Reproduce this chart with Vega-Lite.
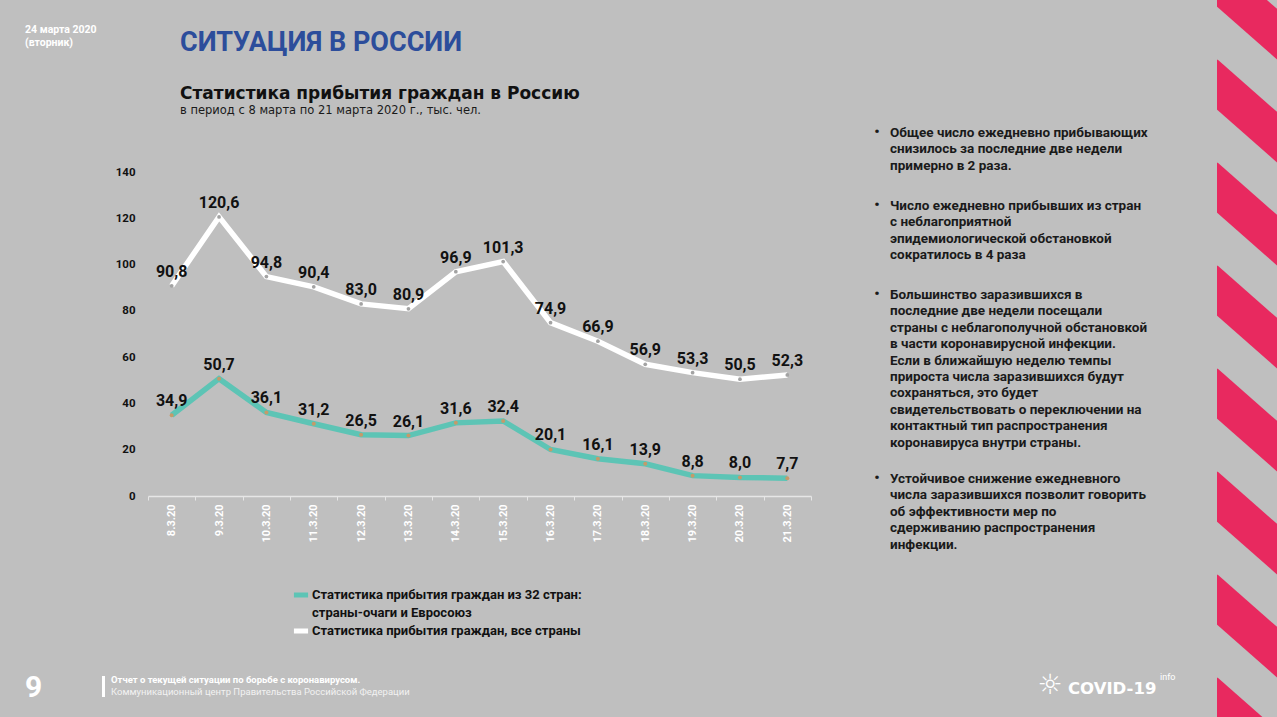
{
  "$schema": "https://vega.github.io/schema/vega-lite/v6.json",
  "width": 663,
  "height": 324,
  "autosize": "none",
  "padding": {"left": 148, "top": 172, "right": 466, "bottom": 221},
  "background": "#bfbfbf",
  "config": {
    "view": {"stroke": null},
    "font": "Roboto",
    "style": {"guide-label": {"lineHeight": 18}},
    "locale": {"number": {"decimal": ",", "thousands": " ", "grouping": [3], "currency": ["", ""]}}
  },
  "datasets": {
    "arrivals": [
      {"date": "8.3.20", "series": "Статистика прибытия граждан, все страны", "value": 90.8},
      {"date": "9.3.20", "series": "Статистика прибытия граждан, все страны", "value": 120.6},
      {"date": "10.3.20", "series": "Статистика прибытия граждан, все страны", "value": 94.8},
      {"date": "11.3.20", "series": "Статистика прибытия граждан, все страны", "value": 90.4},
      {"date": "12.3.20", "series": "Статистика прибытия граждан, все страны", "value": 83.0},
      {"date": "13.3.20", "series": "Статистика прибытия граждан, все страны", "value": 80.9},
      {"date": "14.3.20", "series": "Статистика прибытия граждан, все страны", "value": 96.9},
      {"date": "15.3.20", "series": "Статистика прибытия граждан, все страны", "value": 101.3},
      {"date": "16.3.20", "series": "Статистика прибытия граждан, все страны", "value": 74.9},
      {"date": "17.3.20", "series": "Статистика прибытия граждан, все страны", "value": 66.9},
      {"date": "18.3.20", "series": "Статистика прибытия граждан, все страны", "value": 56.9},
      {"date": "19.3.20", "series": "Статистика прибытия граждан, все страны", "value": 53.3},
      {"date": "20.3.20", "series": "Статистика прибытия граждан, все страны", "value": 50.5},
      {"date": "21.3.20", "series": "Статистика прибытия граждан, все страны", "value": 52.3},
      {"date": "8.3.20", "series": "Статистика прибытия граждан из 32 стран: страны-очаги и Евросоюз", "value": 34.9},
      {"date": "9.3.20", "series": "Статистика прибытия граждан из 32 стран: страны-очаги и Евросоюз", "value": 50.7},
      {"date": "10.3.20", "series": "Статистика прибытия граждан из 32 стран: страны-очаги и Евросоюз", "value": 36.1},
      {"date": "11.3.20", "series": "Статистика прибытия граждан из 32 стран: страны-очаги и Евросоюз", "value": 31.2},
      {"date": "12.3.20", "series": "Статистика прибытия граждан из 32 стран: страны-очаги и Евросоюз", "value": 26.5},
      {"date": "13.3.20", "series": "Статистика прибытия граждан из 32 стран: страны-очаги и Евросоюз", "value": 26.1},
      {"date": "14.3.20", "series": "Статистика прибытия граждан из 32 стран: страны-очаги и Евросоюз", "value": 31.6},
      {"date": "15.3.20", "series": "Статистика прибытия граждан из 32 стран: страны-очаги и Евросоюз", "value": 32.4},
      {"date": "16.3.20", "series": "Статистика прибытия граждан из 32 стран: страны-очаги и Евросоюз", "value": 20.1},
      {"date": "17.3.20", "series": "Статистика прибытия граждан из 32 стран: страны-очаги и Евросоюз", "value": 16.1},
      {"date": "18.3.20", "series": "Статистика прибытия граждан из 32 стран: страны-очаги и Евросоюз", "value": 13.9},
      {"date": "19.3.20", "series": "Статистика прибытия граждан из 32 стран: страны-очаги и Евросоюз", "value": 8.8},
      {"date": "20.3.20", "series": "Статистика прибытия граждан из 32 стран: страны-очаги и Евросоюз", "value": 8.0},
      {"date": "21.3.20", "series": "Статистика прибытия граждан из 32 стран: страны-очаги и Евросоюз", "value": 7.7}
    ]
  },
  "data": {"name": "arrivals"},
  "layer": [
    {"data": {"values": [{}]}, "mark": {"type": "rule", "strokeWidth": 38, "color": "#e8295f", "strokeCap": "butt"}, "encoding": {"x": {"value": 1057}, "x2": {"value": 1142}, "y": {"value": -201.2}, "y2": {"value": -126.4}}},
    {"data": {"values": [{}]}, "mark": {"type": "rule", "strokeWidth": 38, "color": "#e8295f", "strokeCap": "butt"}, "encoding": {"x": {"value": 1057}, "x2": {"value": 1142}, "y": {"value": -98.2}, "y2": {"value": -23.4}}},
    {"data": {"values": [{}]}, "mark": {"type": "rule", "strokeWidth": 38, "color": "#e8295f", "strokeCap": "butt"}, "encoding": {"x": {"value": 1057}, "x2": {"value": 1142}, "y": {"value": 4.8}, "y2": {"value": 79.6}}},
    {"data": {"values": [{}]}, "mark": {"type": "rule", "strokeWidth": 38, "color": "#e8295f", "strokeCap": "butt"}, "encoding": {"x": {"value": 1057}, "x2": {"value": 1142}, "y": {"value": 107.8}, "y2": {"value": 182.6}}},
    {"data": {"values": [{}]}, "mark": {"type": "rule", "strokeWidth": 38, "color": "#e8295f", "strokeCap": "butt"}, "encoding": {"x": {"value": 1057}, "x2": {"value": 1142}, "y": {"value": 210.8}, "y2": {"value": 285.6}}},
    {"data": {"values": [{}]}, "mark": {"type": "rule", "strokeWidth": 38, "color": "#e8295f", "strokeCap": "butt"}, "encoding": {"x": {"value": 1057}, "x2": {"value": 1142}, "y": {"value": 313.8}, "y2": {"value": 388.6}}},
    {"data": {"values": [{}]}, "mark": {"type": "rule", "strokeWidth": 38, "color": "#e8295f", "strokeCap": "butt"}, "encoding": {"x": {"value": 1057}, "x2": {"value": 1142}, "y": {"value": 416.8}, "y2": {"value": 491.6}}},
    {"data": {"values": [{}]}, "mark": {"type": "rule", "strokeWidth": 38, "color": "#e8295f", "strokeCap": "butt"}, "encoding": {"x": {"value": 1057}, "x2": {"value": 1142}, "y": {"value": 519.8}, "y2": {"value": 594.6}}},
    {"data": {"values": [{}]}, "mark": {"type": "rule", "strokeWidth": 52, "color": "#bfbfbf", "strokeCap": "butt"}, "encoding": {"x": {"value": 1043}, "y": {"value": -180}, "y2": {"value": 560}}},
    {
      "mark": {"type": "line", "strokeWidth": 5.5},
      "encoding": {
        "x": {
          "field": "date", "type": "ordinal", "sort": null,
          "scale": {"paddingInner": 0, "paddingOuter": 0},
          "axis": {
            "title": null, "labelAngle": 270, "labelColor": "#ffffff", "labelFont": "Roboto",
            "labelFontWeight": "bold", "labelFontSize": 11, "labelPadding": 4,
            "domainColor": "#e6e6e6", "domainWidth": 1.5, "tickColor": "#e6e6e6",
            "tickBand": "extent", "tickSize": 4, "tickWidth": 1
          }
        },
        "y": {
          "field": "value", "type": "quantitative",
          "scale": {"domain": [0, 140]},
          "axis": {
            "title": null, "values": [0, 20, 40, 60, 80, 100, 120, 140], "domain": false, "ticks": false,
            "grid": false, "labelFont": "Roboto", "labelFontWeight": "bold", "labelFontSize": 11.5,
            "labelColor": "#111111", "labelPadding": 13
          }
        },
        "color": {
          "field": "series", "type": "nominal",
          "scale": {
            "domain": ["Статистика прибытия граждан из 32 стран: страны-очаги и Евросоюз", "Статистика прибытия граждан, все страны"],
            "range": ["#5dc4b5", "#ffffff"]
          },
          "legend": {
            "orient": "none", "legendX": 143, "legendY": 413, "title": null,
            "symbolType": "stroke", "symbolStrokeWidth": 5, "symbolSize": 200,
            "labelFont": "Roboto", "labelFontWeight": "bold", "labelFontSize": 13, "labelColor": "#111111",
            "labelLimit": 500, "labelOffset": 1, "rowPadding": 1,
            "labelExpr": "indexof(datum.label, ': ') > 0 ? [substring(datum.label, 0, indexof(datum.label, ': ') + 1), substring(datum.label, indexof(datum.label, ': ') + 2)] : datum.label"
          }
        }
      }
    },
    {
      "transform": [{"filter": "datum.series == 'Статистика прибытия граждан, все страны'"}],
      "mark": {"type": "point", "filled": true, "size": 14, "color": "#a3a3a3", "opacity": 1},
      "encoding": {
        "x": {"field": "date", "type": "ordinal", "sort": null},
        "y": {"field": "value", "type": "quantitative"}
      }
    },
    {
      "transform": [{"filter": "datum.series != 'Статистика прибытия граждан, все страны'"}],
      "mark": {"type": "point", "filled": true, "size": 16, "color": "#c59a6a", "opacity": 1},
      "encoding": {
        "x": {"field": "date", "type": "ordinal", "sort": null},
        "y": {"field": "value", "type": "quantitative"}
      }
    },
    {
      "mark": {"type": "text", "font": "Roboto", "fontWeight": "bold", "fontSize": 16, "color": "#111111", "baseline": "middle", "dy": -14},
      "encoding": {
        "x": {"field": "date", "type": "ordinal", "sort": null},
        "y": {"field": "value", "type": "quantitative"},
        "text": {"field": "value", "type": "quantitative", "format": ".1f"}
      }
    },
    {
      "data": {"values": [{}]},
      "mark": {"type": "text", "text": ["24 марта 2020", "(вторник)"], "font": "Roboto", "fontWeight": "bold", "fontSize": 10.5, "lineHeight": 12.5, "color": "#ffffff", "align": "left", "baseline": "top"},
      "encoding": {"x": {"value": -123}, "y": {"value": -147}}
    },
    {
      "data": {"values": [{}]},
      "mark": {"type": "text", "text": "СИТУАЦИЯ В РОССИИ", "font": "Roboto", "fontWeight": "bold", "fontSize": 27, "color": "#2c4d9b", "align": "left", "baseline": "alphabetic"},
      "encoding": {"x": {"value": 32}, "y": {"value": -121}}
    },
    {
      "data": {"values": [{}]},
      "mark": {"type": "text", "text": "Статистика прибытия граждан в Россию", "font": "DejaVu Sans", "fontWeight": "bold", "fontSize": 17, "color": "#111111", "align": "left", "baseline": "alphabetic"},
      "encoding": {"x": {"value": 32}, "y": {"value": -73}}
    },
    {
      "data": {"values": [{}]},
      "mark": {"type": "text", "text": "в период с 8 марта по 21 марта 2020 г., тыс. чел.", "font": "DejaVu Sans", "fontSize": 11.5, "color": "#1a1a1a", "align": "left", "baseline": "alphabetic"},
      "encoding": {"x": {"value": 32}, "y": {"value": -58}}
    },
    {
      "data": {"values": [{}]},
      "mark": {"type": "text", "text": "•", "font": "Roboto", "fontWeight": "bold", "fontSize": 15, "color": "#1a1a1a", "align": "center", "baseline": "middle"},
      "encoding": {"x": {"value": 729}, "y": {"value": -40}}
    },
    {
      "data": {"values": [{}]},
      "mark": {"type": "text", "text": ["Общее число ежедневно прибывающих", "снизилось за последние две недели", "примерно в 2 раза."], "font": "Roboto", "fontWeight": "bold", "fontSize": 13.5, "lineHeight": 16.4, "color": "#1a1a1a", "align": "left", "baseline": "top"},
      "encoding": {"x": {"value": 742}, "y": {"value": -46}}
    },
    {
      "data": {"values": [{}]},
      "mark": {"type": "text", "text": "•", "font": "Roboto", "fontWeight": "bold", "fontSize": 15, "color": "#1a1a1a", "align": "center", "baseline": "middle"},
      "encoding": {"x": {"value": 729}, "y": {"value": 33}}
    },
    {
      "data": {"values": [{}]},
      "mark": {"type": "text", "text": ["Число ежедневно прибывших из стран", "с неблагоприятной", "эпидемиологической обстановкой", "сократилось в 4 раза"], "font": "Roboto", "fontWeight": "bold", "fontSize": 13.5, "lineHeight": 16.4, "color": "#1a1a1a", "align": "left", "baseline": "top"},
      "encoding": {"x": {"value": 742}, "y": {"value": 27}}
    },
    {
      "data": {"values": [{}]},
      "mark": {"type": "text", "text": "•", "font": "Roboto", "fontWeight": "bold", "fontSize": 15, "color": "#1a1a1a", "align": "center", "baseline": "middle"},
      "encoding": {"x": {"value": 729}, "y": {"value": 122}}
    },
    {
      "data": {"values": [{}]},
      "mark": {"type": "text", "text": ["Большинство заразившихся в", "последние две недели посещали", "страны с неблагополучной обстановкой", "в части коронавирусной инфекции.", "Если в ближайшую неделю темпы", "прироста числа заразившихся будут", "сохраняться, это будет", "свидетельствовать о переключении на", "контактный тип распространения", "коронавируса внутри страны."], "font": "Roboto", "fontWeight": "bold", "fontSize": 13.5, "lineHeight": 16.4, "color": "#1a1a1a", "align": "left", "baseline": "top"},
      "encoding": {"x": {"value": 742}, "y": {"value": 116}}
    },
    {
      "data": {"values": [{}]},
      "mark": {"type": "text", "text": "•", "font": "Roboto", "fontWeight": "bold", "fontSize": 15, "color": "#1a1a1a", "align": "center", "baseline": "middle"},
      "encoding": {"x": {"value": 729}, "y": {"value": 306}}
    },
    {
      "data": {"values": [{}]},
      "mark": {"type": "text", "text": ["Устойчивое снижение ежедневного", "числа заразившихся позволит говорить", "об эффективности мер по", "сдерживанию распространения", "инфекции."], "font": "Roboto", "fontWeight": "bold", "fontSize": 13.5, "lineHeight": 16.4, "color": "#1a1a1a", "align": "left", "baseline": "top"},
      "encoding": {"x": {"value": 742}, "y": {"value": 300}}
    },
    {
      "data": {"values": [{}]},
      "mark": {"type": "text", "text": "9", "font": "Roboto", "fontWeight": "bold", "fontSize": 30, "color": "#ffffff", "align": "left", "baseline": "alphabetic"},
      "encoding": {"x": {"value": -123}, "y": {"value": 525}}
    },
    {
      "data": {"values": [{}]},
      "mark": {"type": "rule", "strokeWidth": 3, "color": "#ffffff"},
      "encoding": {"x": {"value": -44.5}, "y": {"value": 504}, "y2": {"value": 525}}
    },
    {
      "data": {"values": [{}]},
      "mark": {"type": "text", "text": "Отчет о текущей ситуации по борьбе с коронавирусом.", "font": "Roboto", "fontWeight": "bold", "fontSize": 9.5, "color": "#ffffff", "align": "left", "baseline": "alphabetic"},
      "encoding": {"x": {"value": -37}, "y": {"value": 511}}
    },
    {
      "data": {"values": [{}]},
      "mark": {"type": "text", "text": "Коммуникационный центр Правительства Российской Федерации", "font": "Roboto", "fontSize": 9.5, "color": "#f2f2f2", "align": "left", "baseline": "alphabetic"},
      "encoding": {"x": {"value": -37}, "y": {"value": 523}}
    },
    {
      "data": {"values": [{}]},
      "mark": {"type": "text", "text": "☼", "font": "DejaVu Sans", "fontSize": 28, "color": "#ffffff", "align": "center", "baseline": "middle"},
      "encoding": {"x": {"value": 902}, "y": {"value": 514}}
    },
    {
      "data": {"values": [{}]},
      "mark": {"type": "text", "text": "COVID-19", "font": "DejaVu Sans", "fontWeight": "bold", "fontSize": 16.5, "color": "#ffffff", "align": "left", "baseline": "alphabetic"},
      "encoding": {"x": {"value": 920}, "y": {"value": 522}}
    },
    {
      "data": {"values": [{}]},
      "mark": {"type": "text", "text": "info", "font": "Roboto", "fontSize": 9, "color": "#ffffff", "align": "left", "baseline": "alphabetic"},
      "encoding": {"x": {"value": 1012}, "y": {"value": 508}}
    }
  ]
}
